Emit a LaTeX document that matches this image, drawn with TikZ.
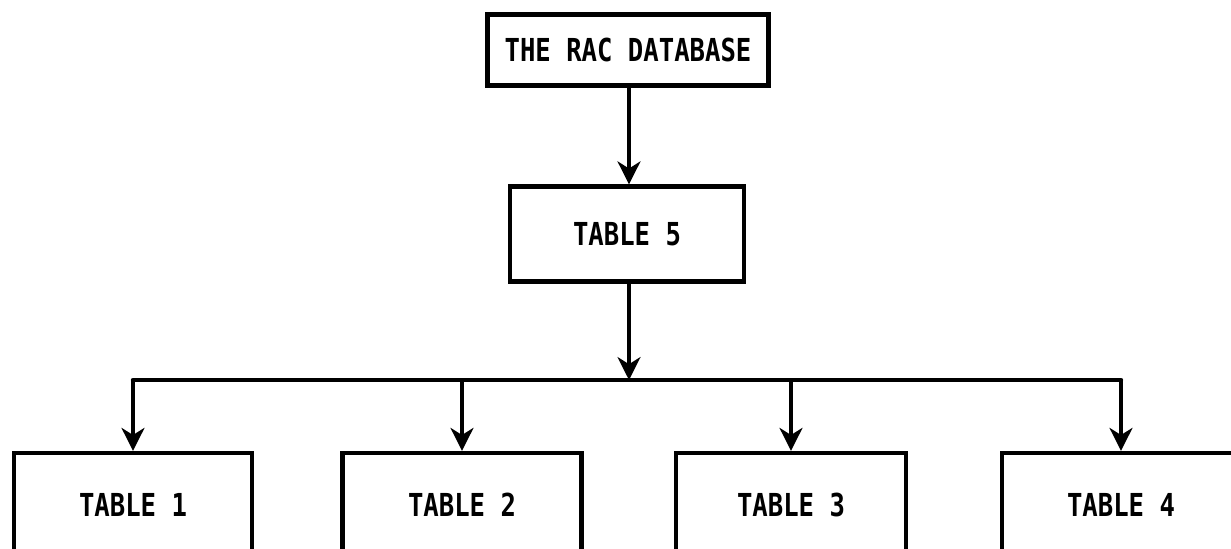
\documentclass[tikz,border=0pt]{standalone}
\usepackage{fontspec}
\setmonofont[FakeStretch=0.81]{DejaVu Sans Mono}
\usepackage{tikz}
\usetikzlibrary{arrows.meta}
\tikzset{
  tbox/.style={draw,line width=2.5pt,inner sep=0pt,
    font=\ttfamily\bfseries\fontsize{18pt}{20pt}\selectfont},
  feed/.style={line width=2.5pt,-{Stealth[length=13pt,width=13pt,inset=4pt]}},
}
\def\lowbox{\node[tbox,minimum height=2.08cm]}

\begin{document}
\begin{tikzpicture}[x=0.02cm,y=-0.02cm]
                \clip (0,0) rectangle (1231,548);
                \node[tbox,minimum width=5.62cm,minimum height=1.42cm] (db) at (628,50) {THE RAC DATABASE};
                \node[tbox,minimum width=4.68cm,minimum height=1.9cm] (t5) at (627,234) {TABLE 5};
                \lowbox[minimum width=4.76cm] (t1) at (133,505) {TABLE 1};
                \lowbox[minimum width=4.78cm] (t2) at (462,505) {TABLE 2};
                \lowbox[minimum width=4.6cm] (t3) at (791,505) {TABLE 3};
                \lowbox[minimum width=4.76cm] (t4) at (1121,505) {TABLE 4};
                \coordinate (bus) at (629,380);
                \foreach \i in {1,...,4} \coordinate (b\i) at (t\i.north |- bus);
                \draw[feed] (db.south -| bus) -- (t5.north -| bus);
                \draw[feed] (t5.south -| bus) -- (bus);
                \draw[line width=2.5pt,line cap=round] (b1) -- (b4);
                \foreach \i in {1,...,4} \draw[feed] (b\i) -- (t\i.north);
            \end{tikzpicture}
\end{document}
